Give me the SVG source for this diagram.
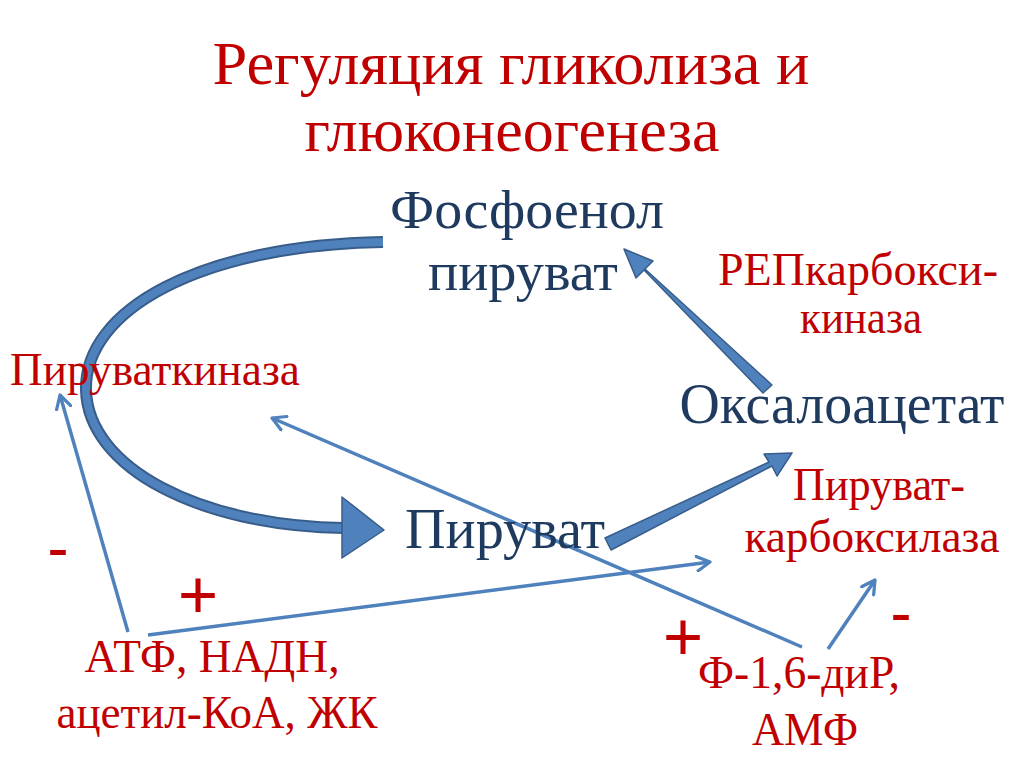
<svg xmlns="http://www.w3.org/2000/svg" width="1024" height="767" viewBox="0 0 1024 767">
<defs>
<style>
.t{font-family:"Liberation Serif","Times New Roman",serif;}
.red{fill:#C00000;}
.blue{fill:#1F3A5F;}
.thin{fill:none;stroke:#4F81BD;stroke-width:3.5;}
.block{fill:#4F81BD;stroke:#385D8A;stroke-width:1.5;stroke-linejoin:round;}
</style>
<marker id="chev" viewBox="0 0 12 12" refX="10" refY="6" markerWidth="5" markerHeight="5" orient="auto" markerUnits="strokeWidth">
<path d="M1,1 L10,6 L1,11" fill="none" stroke="#4F81BD" stroke-width="2.2" stroke-linecap="round" stroke-linejoin="round"/>
</marker>
</defs>
<rect width="1024" height="767" fill="#FFFFFF"/>
<g id="title">
<text class="t red" x="511" y="84" font-size="62" text-anchor="middle" textLength="597" lengthAdjust="spacingAndGlyphs">Регуляция гликолиза и</text>
<text class="t red" x="512" y="151" font-size="62" text-anchor="middle" textLength="415" lengthAdjust="spacingAndGlyphs">глюконеогенеза</text>
</g>
<g id="connectors">
<path d="M383,242 C200,245 84,310 86,390 C88,468 200,526 344,528" fill="none" stroke="#385D8A" stroke-width="12"/>
<path d="M383,242 C200,245 84,310 86,390 C88,468 200,526 344,528" fill="none" stroke="#4F81BD" stroke-width="8"/>
<polygon class="block" points="342,497 384,530 342,558"/>
<polygon class="block" points="772,385 763,393 644,270 636,278 624,249 653,261 645,269"/>
<polygon class="block" points="605,538 611,550 772,466 777,476 792,453 764,454 769,462"/>
<line class="thin" x1="128" y1="632" x2="60" y2="395" marker-end="url(#chev)"/>
<line class="thin" x1="148" y1="635" x2="710" y2="562" marker-end="url(#chev)"/>
<line class="thin" x1="802" y1="647" x2="272" y2="418" marker-end="url(#chev)"/>
<line class="thin" x1="828" y1="649" x2="875" y2="580" marker-end="url(#chev)"/>
</g>
<g id="pep">
<text class="t blue" x="527" y="228" font-size="54" text-anchor="middle" textLength="274" lengthAdjust="spacingAndGlyphs">Фосфоенол</text>
<text class="t blue" x="523" y="290" font-size="54" text-anchor="middle" textLength="190" lengthAdjust="spacingAndGlyphs">пируват</text>
</g>
<g id="pepck">
<text class="t red" x="858" y="285" font-size="47" text-anchor="middle" textLength="280" lengthAdjust="spacingAndGlyphs">РЕПкарбокси-</text>
<text class="t red" x="861" y="333" font-size="47" text-anchor="middle" textLength="122" lengthAdjust="spacingAndGlyphs">киназа</text>
</g>
<g id="pk">
<text class="t red" x="155" y="385" font-size="46" text-anchor="middle" textLength="290" lengthAdjust="spacingAndGlyphs">Пируваткиназа</text>
</g>
<g id="oaa">
<text class="t blue" x="842" y="423" font-size="56" text-anchor="middle" textLength="325" lengthAdjust="spacingAndGlyphs">Оксалоацетат</text>
</g>
<g id="pyruvate">
<text class="t blue" x="505" y="548" font-size="57" text-anchor="middle" textLength="200" lengthAdjust="spacingAndGlyphs">Пируват</text>
</g>
<g id="pc">
<text class="t red" x="879" y="500" font-size="46" text-anchor="middle" textLength="172" lengthAdjust="spacingAndGlyphs">Пируват-</text>
<text class="t red" x="872" y="552" font-size="46" text-anchor="middle" textLength="255" lengthAdjust="spacingAndGlyphs">карбоксилаза</text>
</g>
<g id="inhib1">
<text class="t red" x="212" y="672" font-size="46" text-anchor="middle" textLength="255" lengthAdjust="spacingAndGlyphs">АТФ, НАДН,</text>
<text class="t red" x="217" y="728" font-size="46" text-anchor="middle" textLength="321" lengthAdjust="spacingAndGlyphs">ацетил-КоА, ЖК</text>
</g>
<g id="activ1">
<text class="t red" x="799" y="688" font-size="46" text-anchor="middle" textLength="202" lengthAdjust="spacingAndGlyphs">Ф-1,6-диР,</text>
<text class="t red" x="805" y="745" font-size="46" text-anchor="middle" textLength="106" lengthAdjust="spacingAndGlyphs">АМФ</text>
</g>
<g id="signs">
<text class="t red" x="58" y="566" font-size="60" font-weight="bold" text-anchor="middle">-</text>
<text class="t red" x="198" y="619" font-size="72" font-weight="bold" text-anchor="middle">+</text>
<text class="t red" x="683" y="661" font-size="72" font-weight="bold" text-anchor="middle">+</text>
<text class="t red" x="901" y="631" font-size="60" font-weight="bold" text-anchor="middle">-</text>
</g>
</svg>
